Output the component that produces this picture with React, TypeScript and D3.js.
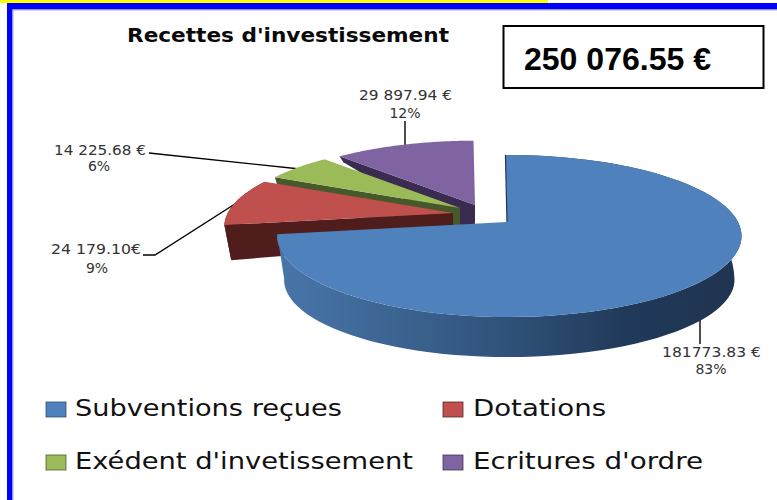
import React from "react";
import * as d3 from "d3";

const categories = ["Subventions reçues", "Dotations", "Exédent d'invetissement", "Ecritures d'ordre"];
const values = [181773.83, 24179.1, 14225.68, 29897.94];
const valueLabels = ["181773.83 €", "24 179.10€", "14 225.68 €", "29 897.94 €"];
const percentLabels = ["83%", "9%", "6%", "12%"];
const totalLabel = "250 076.55 €";
const titleText = "Recettes d'investissement";

const topColors = ["#4f81bd", "#c0504d", "#9bbb59", "#8064a2"];
const wallColors = ["#2c4a6e", "#4f1e1c", "#47592a", "#3a2c50"];
const apexes = [[507, 222], [453, 213], [460, 208], [475, 205]];
const scales = [1, 0.975, 0.96, 0.96];
const depthFactors = [1, 0.8, 1, 1];
const drawOrder = [3, 2, 1, 0];

const RX = 231;
const RY = 78.6;
const K = 0.173;
const depth = d3.scaleLinear().domain([-70, -48, 12, 95]).range([2, 6, 44, 40]).clamp(true);
const angleSteps = 90;

type P = [number, number];
const line = d3.line<P>().x((d) => d[0]).y((d) => d[1]);

const offset = (a: number, k: number): P => {
  const u = Math.sin(a);
  const v = Math.cos(a);
  const s = k / (1 + K * v);
  return [RX * u * s, -RY * v * s];
};

const arcs = d3.pie<number>().sort(null).value((d) => d).startAngle(-0.008).endAngle(2 * Math.PI - 0.008)(values);

const topPoint = (i: number, a: number): P => {
  const [dx, dy] = offset(a, scales[i]);
  const squeeze = i === 0 && dx < 0 ? 0.98 : 1;
  return [apexes[i][0] + dx * squeeze, apexes[i][1] + dy];
};
const bottomPoint = (i: number, a: number): P => {
  const [dx, dy] = offset(a, scales[i]);
  const squeeze = i === 0 && dx < 0 ? 0.98 : 1;
  return [apexes[i][0] + dx * squeeze * 0.97, apexes[i][1] + dy + depth(dy) * depthFactors[i]];
};
const sweep = (a0: number, a1: number) => d3.range(angleSteps + 1).map((t) => a0 + ((a1 - a0) * t) / angleSteps);

const topFace = (i: number) =>
  line([apexes[i] as P, ...sweep(arcs[i].startAngle, arcs[i].endAngle).map((a) => topPoint(i, a))]) + "Z";

// Outer curved wall (only the blue slice and the left end of the red one show it)
const outerWall = (i: number) => {
  const as = sweep(arcs[i].startAngle, arcs[i].endAngle);
  return line([...as.map((a) => topPoint(i, a)), ...as.slice().reverse().map((a) => bottomPoint(i, a))]) + "Z";
};

// Flat radial wall along the edge that faces the viewer
const radialWall = (i: number) => {
  const a = arcs[i].startAngle;
  const ap = apexes[i];
  return line([topPoint(i, a), ap as P, [ap[0], ap[1] + depth(0) * depthFactors[i]], bottomPoint(i, a)]) + "Z";
};

const legendRows = [
  { i: 0, x: 46, y: 402, h: 15, tx: 75, base: 416, w: 267 },
  { i: 1, x: 443, y: 402, h: 15, tx: 473, base: 416, w: 133 },
  { i: 2, x: 46, y: 455, h: 15, tx: 75, base: 469, w: 338 },
  { i: 3, x: 443, y: 455, h: 15, tx: 473, base: 469, w: 230 },
];

const labelRows = [
  { i: 0, x: 662, w: 99, cx: 711, y1: 357, y2: 374 },
  { i: 1, x: 51, w: 90, cx: 97, y1: 254, y2: 273 },
  { i: 2, x: 54, w: 92, cx: 99, y1: 155, y2: 171 },
  { i: 3, x: 359, w: 93, cx: 405, y1: 100, y2: 118 },
];

const leaders: P[][] = [
  [[700, 318], [700, 344]],
  [[143, 255], [155, 255], [238, 202]],
  [[149, 153], [300, 169]],
  [[405, 121], [405, 147]],
];

const SANS = "'DejaVu Sans', Verdana, sans-serif";

export default function App() {
  return (
    <svg width={777} height={500} style={{ position: "absolute", left: 0, top: 0, background: "#fff" }}>
      <defs>
        <linearGradient id="blueWall" gradientUnits="userSpaceOnUse" x1={280} x2={740} y1={0} y2={0}>
          <stop offset="0" stopColor="#4875aa" />
          <stop offset="0.25" stopColor="#3c6491" />
          <stop offset="0.5" stopColor="#2f5179" />
          <stop offset="0.75" stopColor="#213a5a" />
          <stop offset="1" stopColor="#1f3450" />
        </linearGradient>
      </defs>

      {/* page frame */}
      <rect x={0} y={0} width={548} height={3} fill="#ffff00" />
      <rect x={7} y={3} width={770} height={6.5} fill="#0000ff" />
      <rect x={7} y={3} width={5.5} height={497} fill="#0000ff" />
      <rect x={12.5} y={9.5} width={765} height={1} fill="#a9a9c4" />
      <rect x={12.5} y={9.5} width={1} height={490.5} fill="#a9a9c4" />

      <text x={127} y={42} fontFamily={SANS} fontWeight="bold" fontSize={20} fill="#0a0a0a" textLength={322} lengthAdjust="spacingAndGlyphs">
        {titleText}
      </text>

      <rect x={503.5} y={26} width={260} height={62} fill="#fff" stroke="#000" strokeWidth={2} />
      <text x={524} y={70} fontFamily="'Liberation Sans', Arial, sans-serif" fontWeight="bold" fontSize={31} fill="#000" textLength={187} lengthAdjust="spacingAndGlyphs">
        {totalLabel}
      </text>

      {leaders.map((pts, k) => (
        <path key={k} d={line(pts) as string} fill="none" stroke="#000" strokeWidth={1.4} />
      ))}

      {drawOrder.map((i) => (
        <g key={i}>
          {i !== 0 && <path d={radialWall(i)} fill={wallColors[i]} />}
          {i === 0 && <path d={outerWall(i)} fill="url(#blueWall)" />}
          {i === 1 && <path d={outerWall(i)} fill={wallColors[i]} />}
          <path d={topFace(i)} fill={topColors[i]} />
          {i === 0 && (
            <path d={line([topPoint(0, arcs[0].startAngle), apexes[0] as P]) as string} stroke="#1f3552" strokeWidth={1.2} fill="none" />
          )}
        </g>
      ))}

      {labelRows.map((r) => (
        <g key={r.i} fontFamily={SANS} fontSize={14} fill="#333">
          <text x={r.x} y={r.y1} textLength={r.w} lengthAdjust="spacingAndGlyphs">{valueLabels[r.i]}</text>
          <text x={r.cx} y={r.y2} textAnchor="middle">{percentLabels[r.i]}</text>
        </g>
      ))}

      {legendRows.map((r) => (
        <g key={r.i}>
          <rect x={r.x} y={r.y} width={20} height={r.h} fill={topColors[r.i]} stroke={wallColors[r.i]} strokeOpacity={0.75} strokeWidth={1} />
          <text x={r.tx} y={r.base} fontFamily={SANS} fontSize={23} fill="#111" textLength={r.w} lengthAdjust="spacingAndGlyphs">
            {categories[r.i]}
          </text>
        </g>
      ))}
    </svg>
  );
}
